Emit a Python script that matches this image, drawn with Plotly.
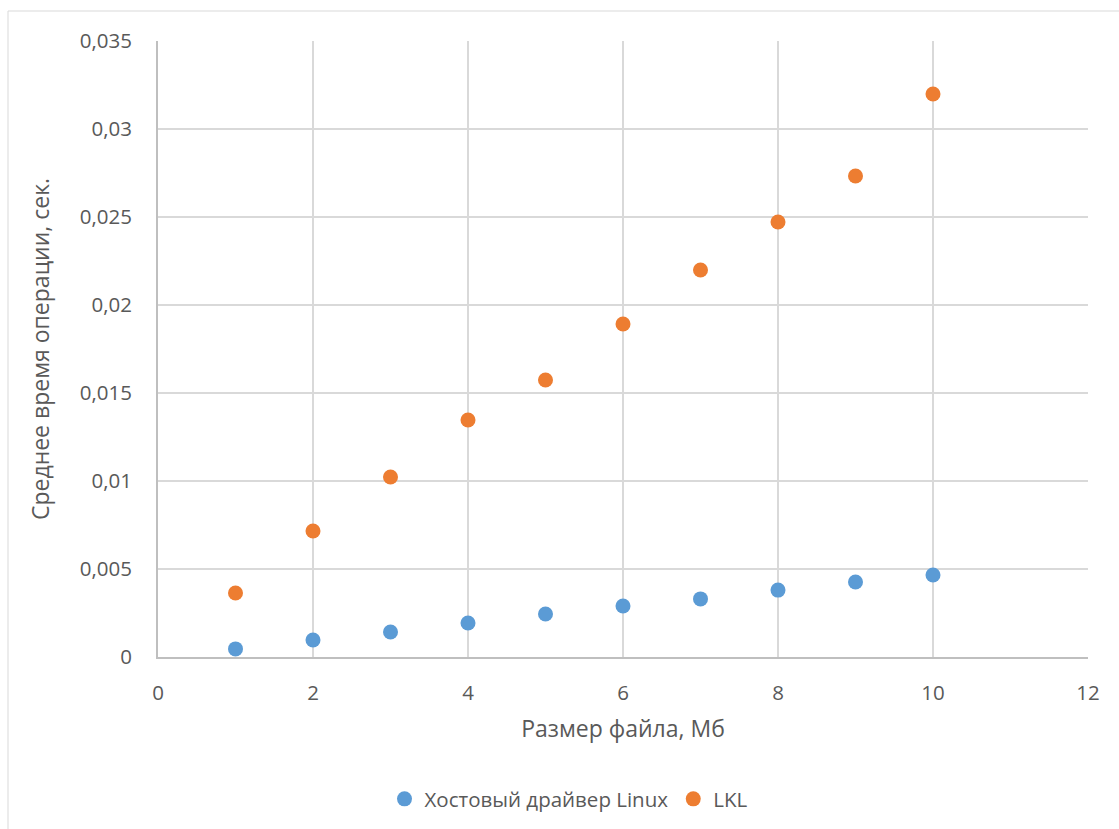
import plotly.graph_objects as go

file_size_mb = [1, 2, 3, 4, 5, 6, 7, 8, 9, 10]
host_driver = [0.00046, 0.00097, 0.00142, 0.00193, 0.00244, 0.0029, 0.0033, 0.0038, 0.00426, 0.00466]
lkl = [0.00364, 0.00716, 0.01023, 0.01347, 0.01574, 0.01892, 0.02199, 0.02472, 0.02733, 0.03199]

y_tickvals = [0, 0.005, 0.01, 0.015, 0.02, 0.025, 0.03, 0.035]
y_ticktext = ["0", "0,005", "0,01", "0,015", "0,02", "0,025", "0,03", "0,035"]
x_tickvals = [0, 2, 4, 6, 8, 10, 12]

series_names = ["Хостовый драйвер Linux", "LKL"]
colors = ["#5B9BD5", "#ED7D31"]

FONT = "Open Sans, DejaVu Sans, sans-serif"
TXT = "#595959"

fig = go.Figure()
for name, ys, c in zip(series_names, [host_driver, lkl], colors):
    fig.add_trace(go.Scatter(x=file_size_mb, y=ys, mode="markers", name=name,
                             marker=dict(color=c, size=15, line=dict(width=0))))

W, H = 1119, 829
L, R, T, B = 158, 31, 41, 172
pw, ph = W - L - R, H - T - B

fig.update_layout(
    width=W, height=H,
    margin=dict(l=L, r=R, t=T, b=B, autoexpand=False),
    paper_bgcolor="white", plot_bgcolor="white",
    font=dict(family=FONT, size=20.5, color=TXT),
    separators=", ",
    showlegend=True,
    legend=dict(orientation="h", x=(569 - L) / pw, xanchor="center",
                y=(657 - 799) / ph, yanchor="middle",
                font=dict(size=20.5, color=TXT), itemwidth=30,
                itemsizing="trace", traceorder="normal"),
    xaxis=dict(range=[0, 12], tickvals=x_tickvals, showgrid=True, gridcolor="#d9d9d9",
               gridwidth=2, zeroline=False, showline=True, linecolor="#bfbfbf", linewidth=2,
               ticks="", ticklabelstandoff=16, tickfont=dict(size=20.5),
               title=dict(text="Размер файла, Мб", font=dict(size=23, color=TXT), standoff=16)),
    yaxis=dict(range=[0, 0.035], tickvals=y_tickvals, ticktext=y_ticktext, showgrid=True,
               gridcolor="#d9d9d9", gridwidth=2, zeroline=False, showline=True,
               linecolor="#bfbfbf", linewidth=2, ticks="", ticklabelstandoff=20,
               tickfont=dict(size=20.5),
               title=dict(text="Среднее время операции, сек.", font=dict(size=23, color=TXT),
                          standoff=24)),
)

fig.add_shape(type="rect", xref="paper", yref="paper",
              x0=(8 - L) / pw, x1=1.5, y0=-1.0, y1=(657 - 11) / ph,
              line=dict(color="#d9d9d9", width=1), fillcolor="rgba(0,0,0,0)", layer="below")

fig.write_html("out.html", config={"displayModeBar": False},
               post_script="document.body.style.margin='0';document.body.style.overflow='hidden';")
